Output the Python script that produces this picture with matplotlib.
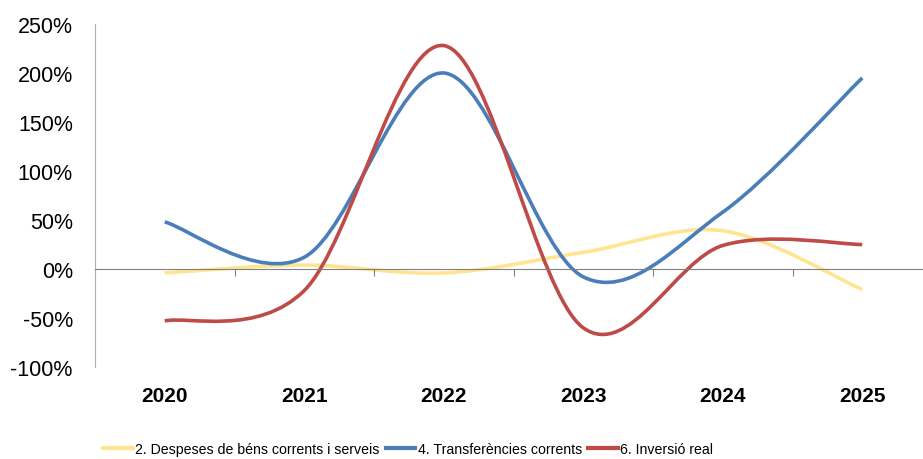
import matplotlib.pyplot as plt
import numpy as np
from matplotlib.path import Path
from matplotlib.patches import PathPatch
from matplotlib.lines import Line2D

years = ['2020', '2021', '2022', '2023', '2024', '2025']
despeses = [-4, 4, -4, 17, 39, -21]
transferencies = [48, 12, 200, -8, 58, 195]
inversio = [-53, -22, 228, -60, 24, 25]

labels = ['2. Despeses de béns corrents i serveis',
          '4. Transferències corrents',
          '6. Inversió real']
colors = ['#FFE591', '#4A7EBB', '#BE4B48']

plt.rcParams['font.family'] = ['Liberation Sans', 'DejaVu Sans']


def smooth_path(y):
    # excel-like smoothed line: cubic bezier through each point
    x = np.arange(len(y), dtype=float)
    y = np.asarray(y, dtype=float)
    n = len(y)
    verts = [(x[0], y[0])]
    codes = [Path.MOVETO]
    for i in range(n - 1):
        p0 = max(i - 1, 0)
        p3 = min(i + 2, n - 1)
        c1 = (x[i] + (x[i + 1] - x[p0]) / 6, y[i] + (y[i + 1] - y[p0]) / 6)
        c2 = (x[i + 1] - (x[p3] - x[i]) / 6, y[i + 1] - (y[p3] - y[i]) / 6)
        verts += [c1, c2, (x[i + 1], y[i + 1])]
        codes += [Path.CURVE4] * 3
    return Path(verts, codes)


fig = plt.figure(figsize=(9.23, 4.6), dpi=100)
ax = fig.add_axes([95 / 923, 92 / 460, 837 / 923, 343 / 460])

for vals, col in zip([despeses, transferencies, inversio], colors):
    ax.add_patch(PathPatch(smooth_path(vals), fill=False, edgecolor=col,
                           lw=2.6, capstyle='butt', joinstyle='round'))

ax.set_xlim(-0.5, 5.5)
ax.set_ylim(-100, 250)

yt = np.arange(-100, 251, 50)
ax.set_yticks(yt)
ax.set_yticklabels([f'{v}%' for v in yt], fontsize=15.5)
ax.tick_params(axis='y', length=0, pad=16)

# category axis crosses at 0, labels stay at the bottom
ax.spines['bottom'].set_position(('data', 0))
ax.spines['bottom'].set_color('#808080')
ax.spines['left'].set_color('#b0b0b0')
ax.spines['top'].set_visible(False)
ax.spines['right'].set_visible(False)
ax.set_xticks(np.arange(-0.5, 6, 1))
ax.set_xticklabels([])
ax.tick_params(axis='x', length=5, direction='out', color='#808080')

sec = ax.secondary_xaxis('bottom')
sec.set_xticks(range(len(years)))
sec.set_xticklabels(years, fontsize=15, fontweight='bold')
sec.tick_params(length=0, pad=14)
sec.spines['bottom'].set_visible(False)

handles = [Line2D([], [], color=c, lw=3) for c in colors]
fig.legend(handles, labels, loc='center', bbox_to_anchor=(408 / 923, 10 / 460),
           ncol=3, frameon=False, handlelength=2.1, handletextpad=0.15,
           columnspacing=0.45, prop={'size': 10.2})

fig.savefig('out.png', dpi=100)
